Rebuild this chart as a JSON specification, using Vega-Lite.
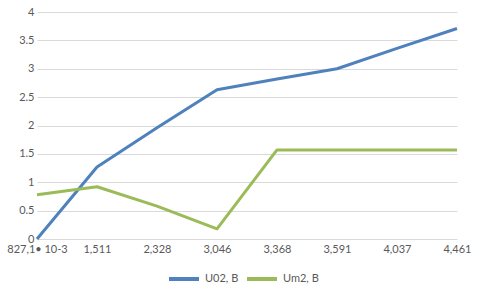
{
  "$schema": "https://vega.github.io/schema/vega-lite/v6.json",
  "width": 420,
  "height": 227,
  "autosize": {"type": "none"},
  "padding": {"left": 37, "top": 12, "right": 23, "bottom": 49},
  "background": "white",
  "config": {
    "view": {"stroke": null},
    "font": "Lato",
    "axis": {"labelFont": "Lato", "labelColor": "#595959", "labelFontSize": 11, "domain": false, "ticks": false, "gridColor": "#d9d9d9", "gridWidth": 1},
    "legend": {"labelFont": "Lato", "labelColor": "#595959", "labelFontSize": 11}
  },
  "data": {
    "values": [
      {"x": "827,1• 10-3", "o": 0, "s": "U02, B", "v": 0},
      {"x": "1,511", "o": 1, "s": "U02, B", "v": 1.27},
      {"x": "2,328", "o": 2, "s": "U02, B", "v": 1.96},
      {"x": "3,046", "o": 3, "s": "U02, B", "v": 2.63},
      {"x": "3,368", "o": 4, "s": "U02, B", "v": 2.82},
      {"x": "3,591", "o": 5, "s": "U02, B", "v": 3.0},
      {"x": "4,037", "o": 6, "s": "U02, B", "v": 3.36},
      {"x": "4,461", "o": 7, "s": "U02, B", "v": 3.71},
      {"x": "827,1• 10-3", "o": 0, "s": "Um2, B", "v": 0.78},
      {"x": "1,511", "o": 1, "s": "Um2, B", "v": 0.92},
      {"x": "2,328", "o": 2, "s": "Um2, B", "v": 0.58},
      {"x": "3,046", "o": 3, "s": "Um2, B", "v": 0.18},
      {"x": "3,368", "o": 4, "s": "Um2, B", "v": 1.57},
      {"x": "3,591", "o": 5, "s": "Um2, B", "v": 1.57},
      {"x": "4,037", "o": 6, "s": "Um2, B", "v": 1.57},
      {"x": "4,461", "o": 7, "s": "Um2, B", "v": 1.57}
    ]
  },
  "mark": {"type": "line", "strokeWidth": 3, "strokeJoin": "round"},
  "encoding": {
    "x": {
      "field": "x", "type": "ordinal", "sort": {"field": "o"},
      "scale": {"type": "point", "padding": 0},
      "axis": {"title": null, "labelAngle": 0, "grid": false, "labelPadding": 4}
    },
    "y": {
      "field": "v", "type": "quantitative",
      "scale": {"domain": [0, 4], "nice": false},
      "axis": {"title": null, "values": [0, 0.5, 1, 1.5, 2, 2.5, 3, 3.5, 4], "format": "~g", "labelPadding": 3}
    },
    "color": {
      "field": "s", "type": "nominal",
      "scale": {"domain": ["U02, B", "Um2, B"], "range": ["#4f81bd", "#9bbb59"]},
      "legend": {"title": null, "orient": "none", "legendX": 130, "legendY": 250, "direction": "horizontal", "symbolType": "stroke", "symbolSize": 900, "symbolStrokeWidth": 4, "labelOffset": 4, "columnPadding": 0}
    },
    "order": {"field": "o"}
  }
}
